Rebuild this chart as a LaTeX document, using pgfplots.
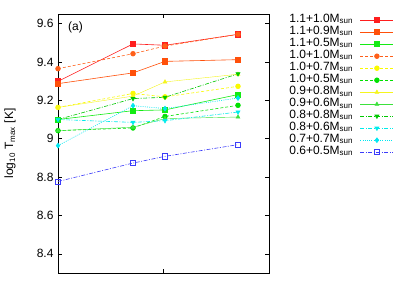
\documentclass[border=0pt]{standalone}
\usepackage{pgfplots}
\pgfplotsset{compat=1.18}
\usepackage{fontspec}
\setmainfont{Liberation Sans}
\definecolor{cA}{RGB}{255,30,30}
\definecolor{cB}{RGB}{255,80,10}
\definecolor{cC}{RGB}{20,235,20}
\definecolor{cD}{RGB}{255,95,25}
\definecolor{cE}{RGB}{250,250,0}
\definecolor{cF}{RGB}{0,225,0}
\definecolor{cG}{RGB}{245,245,30}
\definecolor{cH}{RGB}{60,225,60}
\definecolor{cI}{RGB}{0,200,0}
\definecolor{cJ}{RGB}{0,235,235}
\definecolor{cK}{RGB}{0,230,240}
\definecolor{cL}{RGB}{60,60,250}
\begin{document}
\begin{tikzpicture}[x=1pt,y=1pt]
\path[use as bounding box] (0,0) rectangle (409,286);
\begin{axis}[
  at={(58pt,13pt)}, anchor=south west,
  width=211pt, height=259pt, scale only axis,
  xmin=0, xmax=211, ymin=8.3, ymax=9.65,
  xtick={105}, xticklabels={},
  ytick={8.4,8.6,8.8,9.0,9.2,9.4,9.6},
  yticklabels={8.4,8.6,8.8,9,9.2,9.4,9.6},
  tick align=inside, major tick length=4pt,
  tick style={black, line width=0.5pt},
  axis line style={black, line width=0.7pt},
  font=\fontsize{12}{14}\selectfont,
  ticklabel style={font=\fontsize{12}{14}\selectfont},
  yticklabel style={xshift=-1pt},
  ylabel={log\textsubscript{10} T\textsubscript{max} [K]},
  ylabel style={at={(axis description cs:-0.227,0.5)}, anchor=center, font=\fontsize{12}{14}\selectfont},
  clip=false,
  every axis plot/.append style={line width=0.6pt},
  legend cell align=right,
  legend plot pos=right,
  legend style={draw=none, fill=none, inner sep=0pt,
    at={(axis description cs:1.592,1)}, anchor=north east,
    column sep=7pt,
    nodes={inner xsep=0pt, inner ysep=0pt, text height=8pt, text depth=4pt},
    font=\fontsize{12}{14}\selectfont},
  legend image code/.code={\draw[mark repeat=2,mark phase=2,#1] plot coordinates {(0pt,0pt)(16.5pt,0pt)(33pt,0pt)};},
]
\addplot[cA, mark=square*, mark size=2.6pt, mark options={solid}] coordinates {(0,9.299)(75,9.494)(107,9.487)(180,9.544)};
\addlegendentry{1.1+1.0M\textsubscript{sun}}
\addplot[cB, mark=square*, mark size=2.6pt, mark options={solid}] coordinates {(0,9.287)(75,9.343)(107,9.403)(180,9.412)};
\addlegendentry{1.1+0.9M\textsubscript{sun}}
\addplot[cC, mark=square*, mark size=2.6pt, mark options={solid}] coordinates {(0,9.100)(75,9.146)(107,9.150)(180,9.230)};
\addlegendentry{1.1+0.5M\textsubscript{sun}}
\addplot[cD, dash pattern=on 3pt off 2pt, mark=*, mark size=2.4pt, mark options={solid}] coordinates {(0,9.365)(75,9.443)(107,9.483)(180,9.544)};
\addlegendentry{1.0+1.0M\textsubscript{sun}}
\addplot[cE, dash pattern=on 3pt off 2pt, mark=*, mark size=2.4pt, mark options={solid}] coordinates {(0,9.163)(75,9.236)(107,9.218)(180,9.273)};
\addlegendentry{1.0+0.7M\textsubscript{sun}}
\addplot[cF, dash pattern=on 3pt off 2pt, mark=*, mark size=2.4pt, mark options={solid}] coordinates {(0,9.042)(75,9.056)(107,9.116)(180,9.174)};
\addlegendentry{1.0+0.5M\textsubscript{sun}}
\addplot[cG, line width=0.4pt, mark=triangle*, mark size=2.3pt, mark options={solid}] coordinates {(0,9.163)(75,9.222)(107,9.296)(180,9.336)};
\addlegendentry{0.9+0.8M\textsubscript{sun}}
\addplot[cH, line width=0.4pt, mark=triangle*, mark size=2.3pt, mark options={solid}] coordinates {(0,9.042)(75,9.060)(107,9.105)(180,9.113)};
\addlegendentry{0.9+0.6M\textsubscript{sun}}
\addplot[cI, dash pattern=on 4pt off 1.5pt on 1pt off 1.5pt, mark=triangle*, mark size=2.3pt, mark options={solid, rotate=180}] coordinates {(0,9.100)(75,9.209)(107,9.216)(180,9.338)};
\addlegendentry{0.8+0.8M\textsubscript{sun}}
\addplot[cJ, dash pattern=on 4pt off 1.5pt on 1pt off 1.5pt, mark=triangle*, mark size=2.3pt, mark options={solid, rotate=180}] coordinates {(0,9.100)(75,9.085)(107,9.094)(180,9.139)};
\addlegendentry{0.8+0.6M\textsubscript{sun}}
\addplot[cK, dash pattern=on 1pt off 1.2pt, mark=diamond*, mark size=2.4pt, mark options={solid}] coordinates {(0,8.964)(75,9.172)(107,9.157)(180,9.212)};
\addlegendentry{0.7+0.7M\textsubscript{sun}}
\addplot[cL, dash pattern=on 4pt off 1.5pt on 1pt off 1.5pt, mark=square, mark size=2.6pt, mark options={solid}] coordinates {(0,8.777)(75,8.873)(107,8.908)(180,8.969)};
\addlegendentry{0.6+0.5M\textsubscript{sun}}
\node at (axis description cs:0.083,0.948) {(a)};
\end{axis}
\end{tikzpicture}
\end{document}
